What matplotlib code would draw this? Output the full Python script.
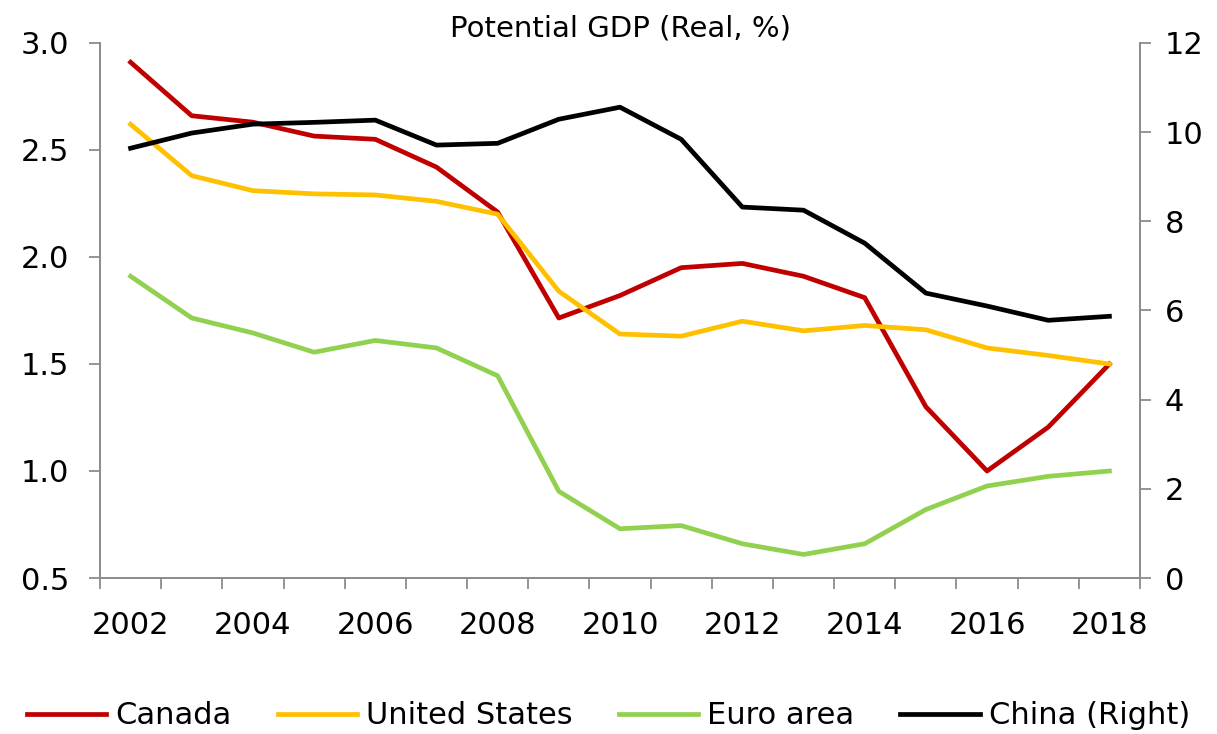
import numpy as np
import matplotlib.pyplot as plt

years = ["2002", "2003", "2004", "2005", "2006", "2007", "2008", "2009", "2010",
         "2011", "2012", "2013", "2014", "2015", "2016", "2017", "2018"]

canada = [2.91, 2.66, 2.63, 2.565, 2.55, 2.42, 2.21, 1.715, 1.82,
          1.95, 1.97, 1.91, 1.81, 1.30, 1.00, 1.205, 1.50]
united_states = [2.62, 2.38, 2.31, 2.295, 2.29, 2.26, 2.20, 1.84, 1.64,
                 1.63, 1.70, 1.655, 1.68, 1.66, 1.575, 1.54, 1.50]
euro_area = [1.91, 1.715, 1.645, 1.555, 1.61, 1.575, 1.445, 0.905, 0.73,
             0.745, 0.66, 0.61, 0.66, 0.82, 0.93, 0.975, 1.00]
china = [9.64, 9.98, 10.18, 10.22, 10.27, 9.71, 9.75, 10.29, 10.56,
         9.84, 8.32, 8.25, 7.51, 6.39, 6.10, 5.78, 5.87]

plt.rcParams['font.family'] = ['DejaVu Sans']
fs = 22
spine_col = "#8c8c8c"

fig = plt.figure(figsize=(12.17, 7.34), dpi=100)
ax = fig.add_axes([100 / 1217, 1 - 578 / 734, 1040 / 1217, 535 / 734])
ax2 = ax.twinx()

x = np.arange(len(years))
lw = 3.4
l1, = ax.plot(x, canada, color="#C00000", lw=lw, label="Canada")
l2, = ax.plot(x, united_states, color="#FFC000", lw=lw, label="United States")
l3, = ax.plot(x, euro_area, color="#92D050", lw=lw, label="Euro area")
l4, = ax2.plot(x, china, color="black", lw=lw, label="China (Right)")

ax.set_xlim(-0.5, len(years) - 0.5)
ax.set_ylim(0.5, 3.0)
ax.set_yticks([0.5, 1.0, 1.5, 2.0, 2.5, 3.0])
ax.set_yticklabels(["0.5", "1.0", "1.5", "2.0", "2.5", "3.0"])
ax2.set_ylim(0, 12)
ax2.set_yticks([0, 2, 4, 6, 8, 10, 12])

ax.set_xticks(x[::2])
ax.set_xticklabels(years[::2])
ax.set_xticks(np.arange(-0.5, len(years)), minor=True)
ax.tick_params(axis="x", which="major", length=0, pad=24, labelsize=fs)
ax.tick_params(axis="x", which="minor", length=8, width=1.3, color=spine_col)
ax.tick_params(axis="y", length=8, width=1.3, color=spine_col, labelsize=fs, pad=14)
ax2.tick_params(axis="y", length=8, width=1.3, color=spine_col, labelsize=fs, pad=10)

for a in (ax, ax2):
    a.spines["top"].set_visible(False)
    for s in ("left", "right", "bottom"):
        a.spines[s].set_color(spine_col)
        a.spines[s].set_linewidth(1.3)

ax.set_title("Potential GDP (Real, %)", fontsize=21, pad=4)

fig.legend(handles=[l1, l2, l3, l4], loc="lower center", ncol=4, frameon=False,
           fontsize=fs, handlelength=2.6, handletextpad=0.3, columnspacing=1.5,
           borderpad=0.1, bbox_to_anchor=(0.5, -0.02))

fig.savefig("out.png", dpi=100)
